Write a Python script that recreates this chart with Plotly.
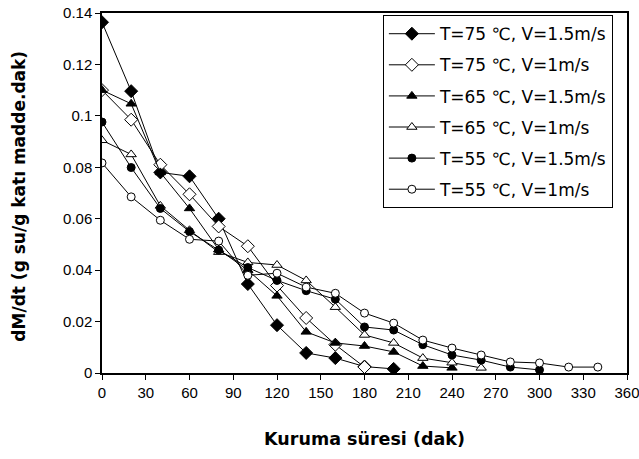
import plotly.graph_objects as go

t_s1 = [0, 20, 40, 60, 80, 100, 120, 140, 160, 180, 200]
v_s1 = [0.1364, 0.1096, 0.078, 0.0765, 0.060, 0.0346, 0.0186, 0.0078, 0.0058, 0.0025, 0.0016]

t_s2 = [0, 20, 40, 60, 80, 100, 120, 140, 160, 180]
v_s2 = [0.110, 0.0985, 0.081, 0.0695, 0.057, 0.0493, 0.034, 0.0214, 0.011, 0.0023]

t_s3 = [0, 20, 40, 60, 80, 100, 120, 140, 160, 180, 200, 220, 240]
v_s3 = [0.110, 0.1047, 0.078, 0.064, 0.048, 0.040, 0.030, 0.016, 0.0117, 0.0105, 0.0082, 0.0027, 0.002]

t_s4 = [0, 20, 40, 60, 80, 100, 120, 140, 160, 180, 200, 220, 240, 260]
v_s4 = [0.0905, 0.085, 0.065, 0.0555, 0.047, 0.043, 0.042, 0.036, 0.0256, 0.0148, 0.0117, 0.0058, 0.004, 0.002]

t_s5 = [0, 20, 40, 60, 80, 100, 120, 140, 160, 180, 200, 220, 240, 260, 280, 300]
v_s5 = [0.0976, 0.0799, 0.064, 0.055, 0.0478, 0.041, 0.036, 0.032, 0.0287, 0.0179, 0.0167, 0.011, 0.007, 0.005, 0.0023, 0.0012]

t_s6 = [0, 20, 40, 60, 80, 100, 120, 140, 160, 180, 200, 220, 240, 260, 280, 300, 320, 340]
v_s6 = [0.0817, 0.0685, 0.0594, 0.052, 0.0513, 0.038, 0.0388, 0.0334, 0.031, 0.0233, 0.0194, 0.0128, 0.0097, 0.007, 0.0043, 0.0039, 0.0023, 0.0023]

names = ["T=75 ℃, V=1.5m/s", "T=75 ℃, V=1m/s", "T=65 ℃, V=1.5m/s",
         "T=65 ℃, V=1m/s", "T=55 ℃, V=1.5m/s", "T=55 ℃, V=1m/s"]
symbols = ["diamond", "diamond", "triangle-up", "triangle-up", "circle", "circle"]
fills = ["black", "white", "black", "white", "black", "white"]
sizes = [10, 10, 9, 9, 8, 8]

xs = [t_s1, t_s2, t_s3, t_s4, t_s5, t_s6]
ys = [v_s1, v_s2, v_s3, v_s4, v_s5, v_s6]

x_ticks = [0, 30, 60, 90, 120, 150, 180, 210, 240, 270, 300, 330, 360]
y_ticks = [0, 0.02, 0.04, 0.06, 0.08, 0.1, 0.12, 0.14]

fig = go.Figure()
for i in range(6):
    fig.add_trace(go.Scatter(
        x=xs[i], y=ys[i], name=names[i], mode="lines+markers",
        legendgroup=str(i),
        line=dict(color="black", width=1),
        marker=dict(symbol=symbols[i], size=sizes[i], color=fills[i],
                    line=dict(color="black", width=1)),
    ))

font_fam = "DejaVu Sans, sans-serif"
tick_font = dict(family="Liberation Sans, Arial, sans-serif", size=15, color="black")
fig.update_layout(
    width=639, height=459,
    margin=dict(l=102, r=12, t=13, b=86, autoexpand=False),
    paper_bgcolor="white", plot_bgcolor="white",
    font=dict(family=font_fam, size=13.5, color="black"),
    showlegend=True,
    legend=dict(x=0.535, y=0.994, xanchor="left", yanchor="top",
                bordercolor="black", borderwidth=1, bgcolor="white",
                tracegroupgap=6, traceorder="grouped", itemwidth=46,
                font=dict(family=font_fam, size=17, color="black")),
    xaxis=dict(range=[0, 360], tickvals=x_ticks, ticks="outside", ticklen=5,
               showgrid=False, zeroline=False, showline=True, linecolor="black",
               linewidth=1.5, mirror=True, tickcolor="black", ticklabeloverflow="allow",
               tickfont=tick_font,
               title=dict(text="<b>Kuruma süresi (dak)</b>", font=dict(size=17.5), standoff=33)),
    yaxis=dict(range=[0, 0.14], tickvals=y_ticks, ticks="outside", ticklen=5,
               showgrid=False, zeroline=False, showline=True, linecolor="black",
               linewidth=1.5, mirror=True, tickcolor="black", ticklabeloverflow="allow",
               tickfont=tick_font),
    annotations=[dict(text="<b>dM/dt (g su/g katı madde.dak)</b>", xref="paper", yref="paper",
                      x=-0.158, y=0.49, xanchor="center", yanchor="middle", textangle=-90,
                      showarrow=False, font=dict(family=font_fam, size=17, color="black"))],
)

fig.write_html("out.html", post_script="document.body.style.margin='0px';",
               config={"displayModeBar": False})
